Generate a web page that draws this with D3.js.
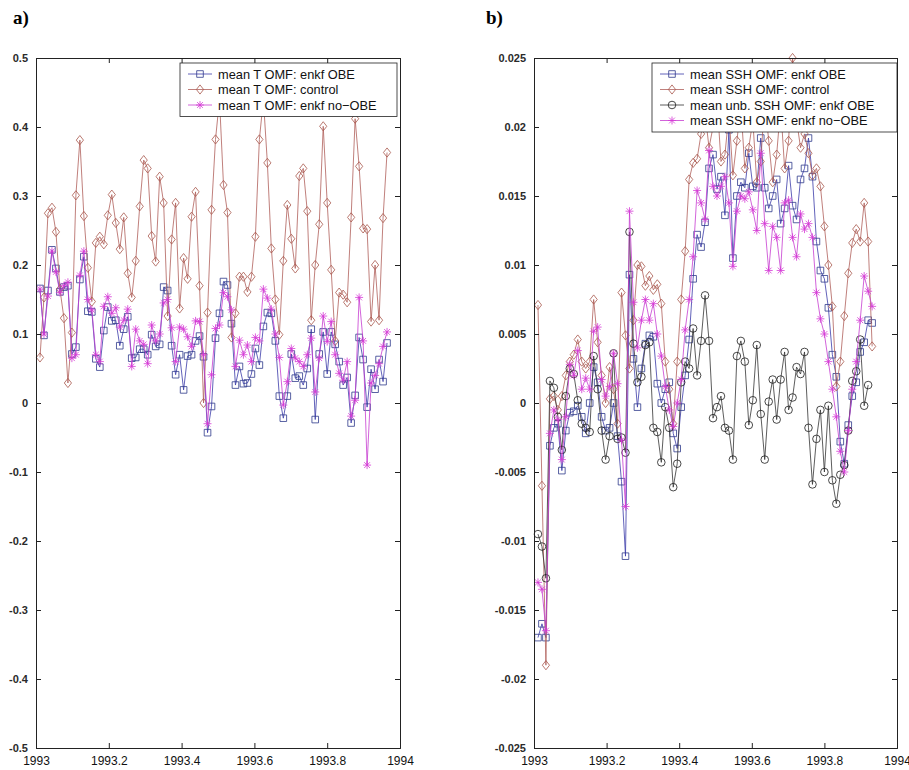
<!DOCTYPE html>
<html>
<head>
<meta charset="utf-8">
<script src="https://cdn.jsdelivr.net/npm/d3@7"></script>
<style>
  body { margin: 0; background: #fff; }
  .tick text { font-family: "Liberation Sans", Arial, sans-serif; font-size: 11px; font-weight: bold; fill: #2a2a2a; }
  .xax .tick text { font-family: "Liberation Sans Narrow", "Arial Narrow", sans-serif; font-size: 12px; font-weight: normal; fill: #111; }
  .legend text { font-family: "Liberation Sans", Arial, sans-serif; font-size: 12.8px; fill: #111; }
</style>
</head>
<body>
<div id="chart"></div>
<script>
// sampling: every 4 days through 1993
const START_DAY = 4;
const STEP_DAYS = 4;

// panel a) mean T OMF
const tObe = [0.166, 0.098, 0.163, 0.222, 0.195, 0.161, 0.168, 0.17, 0.071, 0.081,
  0.179, 0.212, 0.133, 0.132, 0.064, 0.052, 0.105, 0.139, 0.119, 0.12,
  0.083, 0.107, 0.125, 0.065, 0.066, 0.078, 0.078, 0.07, 0.099, 0.082,
  0.085, 0.168, 0.163, 0.083, 0.041, 0.07, 0.019, 0.068, 0.07, 0.09,
  0.097, 0.067, -0.043, -0.005, 0.094, 0.13, 0.176, 0.171, 0.115, 0.026,
  0.053, 0.028, 0.029, 0.042, 0.079, 0.055, 0.111, 0.131, 0.13, 0.09,
  0.01, -0.022, 0.01, 0.071, 0.036, 0.039, 0.026, 0.05, 0.107, -0.024,
  0.071, 0.103, 0.042, 0.103, 0.085, 0.06, 0.026, 0.037, -0.029, 0.011,
  0.095, 0.063, -0.006, 0.049, 0.02, 0.063, 0.031, 0.087];
const tControl = [0.066, 0.153, 0.275, 0.283, 0.248, 0.165, 0.123, 0.029, 0.102, 0.301,
  0.381, 0.271, 0.196, 0.147, 0.232, 0.241, 0.23, 0.272, 0.302, 0.261,
  0.223, 0.269, 0.188, 0.153, 0.206, 0.285, 0.352, 0.34, 0.242, 0.205,
  0.328, 0.29, 0.126, 0.237, 0.29, 0.137, 0.21, 0.18, 0.27, 0.306,
  0.17, 0.0, 0.131, 0.28, 0.382, 0.44, 0.316, 0.276, 0.095, 0.13,
  0.183, 0.183, 0.161, 0.183, 0.241, 0.382, 0.44, 0.348, 0.224, 0.15,
  0.099, 0.206, 0.287, 0.238, 0.195, 0.329, 0.34, 0.278, 0.12, 0.2,
  0.259, 0.401, 0.29, 0.193, 0.09, 0.16, 0.157, 0.146, 0.269, 0.412,
  0.343, 0.253, 0.252, 0.118, 0.2, 0.12, 0.268, 0.363];
const tNoObe = [0.165, 0.1, 0.155, 0.22, 0.19, 0.16, 0.17, 0.175, 0.065, 0.07,
  0.185, 0.22, 0.15, 0.135, 0.07, 0.06, 0.14, 0.154, 0.13, 0.138,
  0.11, 0.12, 0.136, 0.053, 0.107, 0.09, 0.085, 0.057, 0.113, 0.09,
  0.1, 0.145, 0.15, 0.109, 0.06, 0.11, 0.107, 0.096, 0.082, 0.119,
  0.118, 0.07, -0.03, 0.041, 0.108, 0.113, 0.16, 0.154, 0.135, 0.053,
  0.091, 0.07, 0.084, 0.06, 0.095, 0.09, 0.165, 0.152, 0.136, 0.1,
  0.066, -0.003, 0.031, 0.079, 0.065, 0.06, 0.053, 0.07, 0.094, 0.016,
  0.065, 0.126, 0.089, 0.118, 0.07, 0.043, 0.033, 0.06, -0.019, 0.004,
  0.153, 0.09, -0.09, 0.029, 0.04, 0.057, 0.082, 0.103];

// panel b) mean SSH OMF
const sshObe = [-0.017, -0.016, -0.017, -0.0031, -0.0018, -0.0015, -0.0049, -0.002, -0.0007, -0.0006,
  -0.0002, -0.001, -0.0022, 0.0, 0.0026, 0.0015, -0.001, -0.002, -0.0018, 0.0,
  -0.0024, -0.0057, -0.0111, 0.0093, 0.0032, -0.0003, 0.0025, 0.0043, 0.0049, 0.0048,
  0.0014, 0.0, 0.001, 0.0015, -0.0022, -0.0033, -0.0003, 0.002, 0.0046, 0.009,
  0.0122, 0.0113, 0.0131, 0.017, 0.018, 0.0155, 0.0164, 0.0136, 0.0198, 0.0105,
  0.015, 0.016, 0.0156, 0.0181, 0.0157, 0.0156, 0.0192, 0.0156, 0.0141, 0.015,
  0.0162, 0.013, 0.0141, 0.0172, 0.0143, 0.0133, 0.0162, 0.017, 0.0192, 0.0164,
  0.0117, 0.0096, 0.009, 0.0069, 0.0035, 0.0019, -0.0028, -0.0044, -0.0016, 0.0005,
  0.0015, 0.0037, 0.0044, 0.006, 0.0058];
const sshControl = [0.0071, -0.006, -0.019, 0.0003, 0.0005, -0.0005, 0.0005, 0.002, 0.003, 0.0035,
  0.0046, 0.003, 0.0025, 0.003, 0.0075, 0.0044, 0.002, 0.0, 0.0026, 0.001,
  -0.0015, 0.008, 0.0049, 0.0025, 0.006, 0.01, 0.0099, 0.0085, 0.0092, 0.0082,
  0.0086, 0.0072, 0.003, 0.001, -0.0015, 0.003, 0.0075, 0.011, 0.0162, 0.0174,
  0.0177, 0.0195, 0.021, 0.0185, 0.02, 0.022, 0.0175, 0.018, 0.021, 0.0165,
  0.019, 0.0215, 0.017, 0.0185, 0.0205, 0.016, 0.0175, 0.022, 0.019, 0.016,
  0.018, 0.0215, 0.017, 0.019, 0.025, 0.0205, 0.0185, 0.0195, 0.0181, 0.0165,
  0.017, 0.0157, 0.0128, 0.01, 0.007, 0.0012, 0.003, 0.0063, 0.0094, 0.0116,
  0.0126, 0.0117, 0.0145, 0.0117, 0.0041];
const sshUnb = [-0.0095, -0.0104, -0.0127, 0.0016, 0.0011, -0.001, -0.0034, 0.0005, 0.0025, 0.0021,
  0.0002, -0.0015, -0.0018, -0.0021, 0.0034, 0.001, -0.002, -0.0041, -0.0024, 0.0036,
  -0.0026, -0.0025, -0.0036, 0.0124, 0.0043, 0.0015, 0.0019, 0.0042, 0.0044, -0.0018,
  -0.0021, -0.0043, -0.0003, -0.0018, -0.0061, -0.0044, 0.0015, 0.003, 0.0025, 0.0054,
  0.002, 0.0045, 0.0078, 0.0045, -0.0011, -0.0003, 0.0005, -0.0018, -0.002, -0.0041,
  0.0034, 0.0045, 0.003, -0.0016, 0.0002, 0.0042, -0.0008, -0.0041, 0.0001, 0.0017,
  -0.0012, 0.0017, 0.0037, -0.0005, 0.0004, 0.0026, 0.0021, 0.0037, -0.0018, -0.0059,
  -0.0026, -0.0005, -0.005, -0.0002, -0.0056, -0.0073, -0.0052, -0.0045, -0.002, 0.0016,
  0.0023, 0.0046, -0.0002, 0.0013];
const sshNoObe = [-0.013, -0.0135, -0.0165, -0.0022, -0.0005, -0.0012, -0.0041, -0.001, 0.0028, 0.002,
  0.0038, 0.001, 0.0018, 0.001, 0.0052, 0.0055, 0.0017, 0.0005, 0.0012, 0.0036,
  0.0014, -0.0027, -0.0075, 0.0139, 0.0073, 0.004, 0.006, 0.0075, 0.006, 0.0072,
  0.005, 0.0034, 0.0012, -0.0005, -0.0017, 0.0, 0.0017, 0.0053, 0.0075, 0.0106,
  0.0154, 0.0145, 0.0133, 0.0183, 0.0157, 0.015, 0.0157, 0.0164, 0.0145, 0.0099,
  0.0139, 0.015, 0.0148, 0.0153, 0.014, 0.0125, 0.0181, 0.013, 0.0096, 0.0128,
  0.012, 0.0096, 0.0145, 0.0147, 0.012, 0.0106, 0.0137, 0.0126, 0.013, 0.012,
  0.008, 0.0061, 0.005, 0.003, 0.001, -0.001, -0.0035, -0.005, -0.002, 0.001,
  0.003, 0.006, 0.0092, 0.0081, 0.007];

const xTicks = [1993, 1993.2, 1993.4, 1993.6, 1993.8, 1994];
const tTicks = [-0.5, -0.4, -0.3, -0.2, -0.1, 0, 0.1, 0.2, 0.3, 0.4, 0.5];
const sshTicks = [-0.025, -0.02, -0.015, -0.01, -0.005, 0, 0.005, 0.01, 0.015, 0.02, 0.025];

const COLORS = { obe: '#2f3a8c', control: '#a8584c', unb: '#1a1a1a', noobe: '#d63ad6' };
const LINE_COLORS = { obe: '#3a3aa8', control: '#b0605a', unb: '#333', noobe: '#c63cd0' };

function timeOf(i) {
  return 1993 + (START_DAY + STEP_DAYS * i) / 365;
}

// marker shapes, as path strings
const MARKERS = {
  square: 'M-3.3,-3.3H3.3V3.3H-3.3Z',
  diamond: 'M0,-4.6L3.6,0L0,4.6L-3.6,0Z',
  circle: 'M3.8,0A3.8,3.8 0 1 1 -3.8,0A3.8,3.8 0 1 1 3.8,0Z',
  star: 'M-4,0H4M0,-4V4M-2.9,-2.9L2.9,2.9M-2.9,2.9L2.9,-2.9'
};

function drawPanel(svg, cfg) {
  const x = d3.scaleLinear().domain([1993, 1994]).range([cfg.left, cfg.right]);
  const y = d3.scaleLinear().domain(cfg.yDomain).range([cfg.bottom, cfg.top]);
  const g = svg.append('g');

  // series
  const line = d3.line()
    .x((d, i) => x(timeOf(i)))
    .y(d => y(d));

  cfg.series.forEach(s => {
    g.append('path')
      .datum(s.values)
      .attr('fill', 'none')
      .attr('stroke', LINE_COLORS[s.key])
      .attr('stroke-width', 0.8)
      .attr('d', line);
    g.append('g').selectAll('path')
      .data(s.values)
      .join('path')
      .attr('transform', (d, i) => 'translate(' + x(timeOf(i)) + ',' + y(d) + ')')
      .attr('d', MARKERS[s.marker])
      .attr('fill', 'none')
      .attr('stroke', COLORS[s.key])
      .attr('stroke-width', 0.8);
  });

  // axes, MATLAB style box with inward ticks
  const fmt = d => String(+d.toFixed(3));
  svg.append('g')
    .attr('transform', 'translate(' + cfg.left + ',0)')
    .call(d3.axisLeft(y).tickValues(cfg.yTicks).tickFormat(fmt).tickSize(-5).tickPadding(8));
  svg.append('g')
    .attr('transform', 'translate(' + cfg.right + ',0)')
    .call(d3.axisRight(y).tickValues(cfg.yTicks).tickFormat('').tickSize(-5));
  svg.append('g')
    .attr('class', 'xax')
    .attr('transform', 'translate(0,' + cfg.bottom + ')')
    .call(d3.axisBottom(x).tickValues(xTicks).tickFormat(d => String(+d.toFixed(1))).tickSize(-5).tickPadding(8));
  svg.append('g')
    .attr('transform', 'translate(0,' + cfg.top + ')')
    .call(d3.axisTop(x).tickValues(xTicks).tickFormat('').tickSize(-5));
  svg.selectAll('.domain').attr('stroke', '#222');
  svg.selectAll('.tick line').attr('stroke', '#222');

  // legend
  const lg = svg.append('g').attr('class', 'legend');
  lg.append('rect')
    .attr('x', cfg.legend.x).attr('y', cfg.legend.y)
    .attr('width', cfg.legend.w).attr('height', cfg.series.length * 15.5 + 7)
    .attr('fill', '#fff').attr('stroke', '#222').attr('stroke-width', 0.8);
  cfg.series.forEach((s, i) => {
    const cy = cfg.legend.y + 11 + i * 15.5;
    const lx = cfg.legend.x + 8;
    lg.append('line')
      .attr('x1', lx).attr('x2', lx + 24).attr('y1', cy).attr('y2', cy)
      .attr('stroke', LINE_COLORS[s.key]).attr('stroke-width', 0.8);
    lg.append('path')
      .attr('transform', 'translate(' + (lx + 12) + ',' + cy + ')')
      .attr('d', MARKERS[s.marker])
      .attr('fill', 'none').attr('stroke', COLORS[s.key]).attr('stroke-width', 0.8);
    lg.append('text')
      .attr('x', lx + 30).attr('y', cy + 4.5)
      .text(s.label);
  });

  // panel letter
  svg.append('text')
    .attr('x', cfg.letterX).attr('y', 24)
    .attr('font-family', '"Liberation Serif", "Times New Roman", serif')
    .attr('font-weight', 'bold').attr('font-size', 19)
    .text(cfg.letter);
}

(function main() {
  const svg = d3.select('#chart').append('svg')
    .attr('width', 909)
    .attr('height', 770);

  drawPanel(svg, {
    left: 36, right: 400, top: 58, bottom: 748,
    yDomain: [-0.5, 0.5], yTicks: tTicks,
    letter: 'a)', letterX: 13,
    legend: { x: 180, y: 63, w: 217 },
    series: [
      { key: 'obe', marker: 'square', values: tObe, label: 'mean T OMF: enkf OBE' },
      { key: 'control', marker: 'diamond', values: tControl, label: 'mean T OMF: control' },
      { key: 'noobe', marker: 'star', values: tNoObe, label: 'mean T OMF: enkf no\u2212OBE' }
    ]
  });

  drawPanel(svg, {
    left: 534, right: 897, top: 58, bottom: 748,
    yDomain: [-0.025, 0.025], yTicks: sshTicks,
    letter: 'b)', letterX: 486,
    legend: { x: 652, y: 63, w: 245 },
    series: [
      { key: 'obe', marker: 'square', values: sshObe, label: 'mean SSH OMF: enkf OBE' },
      { key: 'control', marker: 'diamond', values: sshControl, label: 'mean SSH OMF: control' },
      { key: 'unb', marker: 'circle', values: sshUnb, label: 'mean unb. SSH OMF: enkf OBE' },
      { key: 'noobe', marker: 'star', values: sshNoObe, label: 'mean SSH OMF: enkf no\u2212OBE' }
    ]
  });
})();
</script>
</body>
</html>
